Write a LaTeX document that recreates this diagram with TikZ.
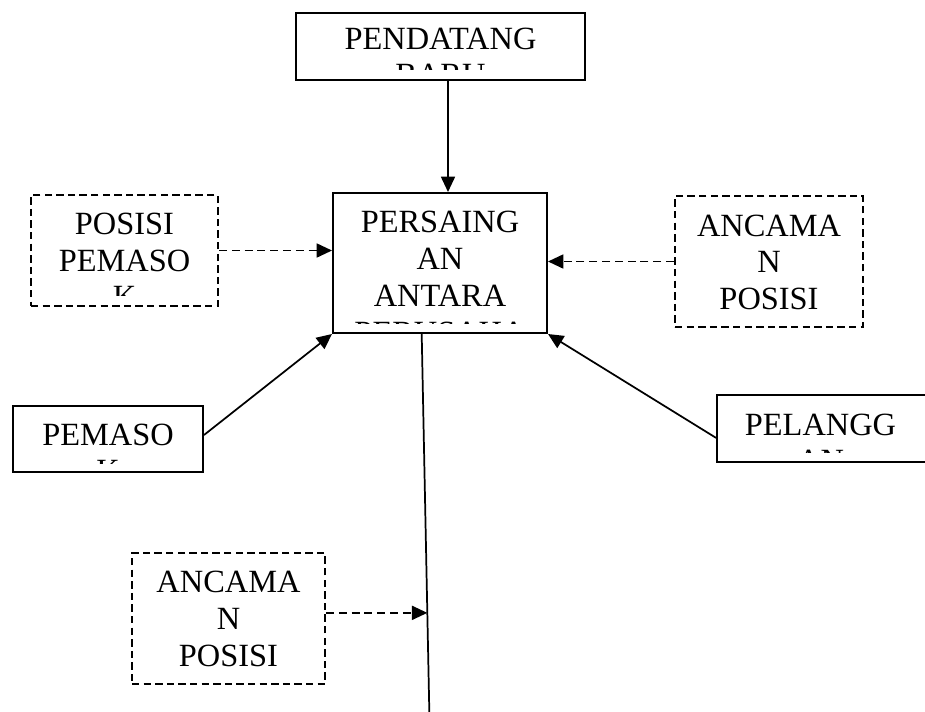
\documentclass[tikz,border=0pt]{standalone}
\usepackage{fontspec}
\setmainfont{Liberation Serif}
\usetikzlibrary{calc}
\usetikzlibrary{arrows.meta}
\usetikzlibrary{fit}

\begin{document}
\begin{tikzpicture} [x=.75pt, y=-.75pt,
  kotak/.style={draw, line width=1.5pt, inner sep=0pt},
  kotakputus/.style={kotak, dash pattern=on 5.5pt off 3.2pt},
  teks/.style={inner sep=0pt, text width=200pt, align=center, anchor=base, font=\fontsize{24.3}{27.6}\selectfont},
  panah/.style={line width=1.3pt, -{Triangle[length=11.5pt, width=10.5pt]}},
  panahputus/.style={panah, dash pattern=on 6pt off 3.6pt}]
\useasboundingbox (0,0) rectangle (925,711);
\clip (0,0) rectangle (925,711);

% kotak
\node[kotak, fit={(296,13) (585,80)}] (baru) {};
\node[kotak, fit={(333,193) (547,333)}] (persaingan) {};
\node[kotakputus, fit={(31,195) (218,306)}] (posisi) {};
\node[kotakputus, fit={(675,196) (863,327)}] (ancaman) {};
\node[kotak, fit={(13,406) (203,472)}] (pemasok) {};
\node[kotak, fit={(717,395) (928,462)}] (pelanggan) {};
\node[kotakputus, fit={(132,553) (325,684)}] (ancamanb) {};

% teks (baris bawah terpotong seperti kotak teks aslinya)
\begin{scope} \clip (296,13) rectangle (585,69);
\node[teks] (baru-t) at (baru.center |- 0,49) {PENDATANG\\BARU};
\end{scope}
\begin{scope} \clip (333,193) rectangle (547,323);
\node[teks] (persaingan-t) at (persaingan.center |- 0,232.7) {PERSAING\\AN\\ANTARA\\PERUSAHA};
\end{scope}
\begin{scope} \clip (31,195) rectangle (218,295);
\node[teks] (posisi-t) at (posisi.center |- 0,234.3) {POSISI\\PEMASO\\K};
\end{scope}
\node[teks] (ancaman-t) at (ancaman.center |- 0,236) {ANCAMA\\N\\POSISI};
\begin{scope} \clip (13,406) rectangle (203,463);
\node[teks] (pemasok-t) at (pemasok.center |- 0,445) {PEMASO\\K};
\end{scope}
\begin{scope} \clip (717,395) rectangle (928,452.5);
\node[teks] (pelanggan-t) at ($(pelanggan.center |- 0,435)+(-2,0)$) {PELANGG\\AN};
\end{scope}
\node[teks] (ancamanb-t) at (ancamanb.center |- 0,592.7) {ANCAMA\\N\\POSISI};

% panah
\coordinate (atas) at (448,0);
\coordinate (turun) at (421.7,0);
\coordinate (ujung) at (429.4,716);
\coordinate (sambung) at ($(persaingan.south -| turun)!.73!(ujung)$);
\draw[panah] (baru.south -| atas) -- (persaingan.north -| atas);
\draw[panahputus] (posisi.east) -- (persaingan.west |- posisi.east);
\draw[panahputus] (ancaman.west) -- (persaingan.east |- ancaman.west);
\draw[panah] ([yshift=3pt]pemasok.east) -- (persaingan.south west);
\draw[panah] ([yshift=-7pt]pelanggan.west) -- (persaingan.south east);
\draw[line width=1.3pt] (persaingan.south -| turun) -- (ujung);
\draw[panahputus] (ancamanb.east |- sambung) -- (sambung);

\end{tikzpicture}
\end{document}
